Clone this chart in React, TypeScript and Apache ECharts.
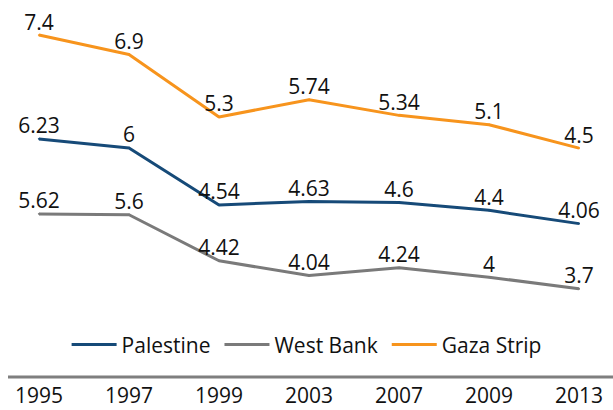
import React, { useEffect, useRef } from "react";
import * as echarts from "echarts";

const years = ["1995", "1997", "1999", "2003", "2007", "2009", "2013"];
const palestine = [6.23, 6, 4.54, 4.63, 4.6, 4.4, 4.06];
const westBank = [5.62, 5.6, 4.42, 4.04, 4.24, 4, 3.7];
const gazaStrip = [7.4, 6.9, 5.3, 5.74, 5.34, 5.1, 4.5];

const FONT = "Open Sans";
const FS = 21;

export default function App() {
  const ref = useRef<HTMLDivElement>(null);
  useEffect(() => {
    if (!ref.current) return;
    const chart = echarts.init(ref.current, undefined, { renderer: "svg" });
    const label = {
      show: true,
      position: "top" as const,
      distance: 2,
      fontSize: FS,
      color: "#111",
      fontFamily: FONT,
    };
    const mk = (name: string, data: number[], color: string, idx: number) => ({
      name,
      type: "line" as const,
      data,
      yAxisIndex: idx,
      symbol: "circle",
      symbolSize: 2,
      itemStyle: { color },
      lineStyle: { color, width: 3 },
      label,
    });
    chart.setOption({
      animation: false,
      textStyle: { fontFamily: FONT },
      grid: { left: 39, right: 34, top: 20, bottom: 33 },
      legend: {
        top: 329,
        left: "center",
        icon: "rect",
        itemWidth: 45,
        itemHeight: 3,
        itemGap: 14,
        textStyle: { fontSize: FS, color: "#111", fontFamily: FONT },
        data: ["Palestine", "West Bank", "Gaza Strip"],
      },
      xAxis: {
        type: "category",
        data: years,
        boundaryGap: false,
        axisLine: { show: false },
        axisTick: { show: false },
        axisLabel: { fontSize: FS, color: "#111", margin: 7, fontFamily: FONT },
      },
      yAxis: [
        { type: "value", show: false, min: 0.127, max: 9.281 },
        { type: "value", show: false, min: 1.44, max: 10.594 },
        { type: "value", show: false, min: -1.369, max: 7.785 },
      ],
      graphic: [
        {
          type: "line",
          shape: { x1: 8, y1: 377, x2: 613, y2: 377 },
          style: { stroke: "#7f7f7f", lineWidth: 3 },
        },
      ],
      series: [
        mk("Palestine", palestine, "#164a78", 0),
        mk("West Bank", westBank, "#7a7a7a", 1),
        mk("Gaza Strip", gazaStrip, "#f7941d", 2),
      ],
    });
    return () => chart.dispose();
  }, []);
  return (
    <div
      ref={ref}
      style={{ position: "fixed", left: 0, top: 0, width: 613, height: 410, background: "#fff" }}
    />
  );
}
